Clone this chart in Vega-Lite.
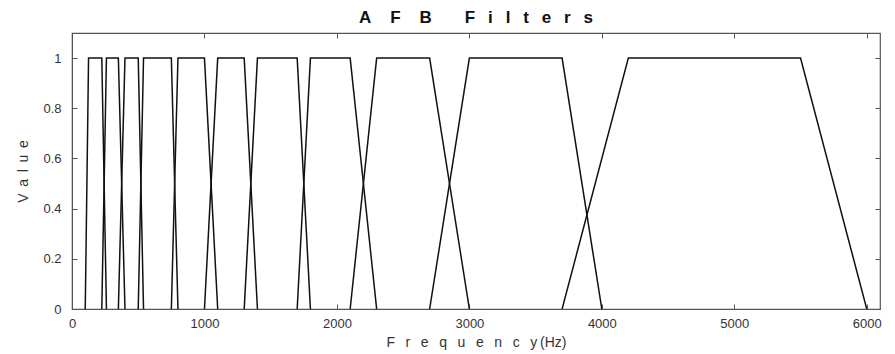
{
  "$schema": "https://vega.github.io/schema/vega-lite/v6.json",
  "width": 808,
  "height": 276,
  "autosize": {"type": "none"},
  "padding": {"left": 72, "top": 33, "right": 15, "bottom": 45},
  "background": "white",
  "title": {
    "text": "A\u00a0\u00a0\u00a0\u00a0F\u00a0\u00a0\u00a0\u00a0B\u00a0\u00a0\u00a0\u00a0\u00a0\u00a0\u00a0F\u00a0\u00a0\u2009i\u00a0\u00a0\u2009l\u00a0\u00a0\u2009t\u00a0\u00a0\u2009e\u00a0\u00a0\u2009r\u00a0\u00a0\u2009s",
    "fontSize": 17,
    "font": "Liberation Sans",
    "fontWeight": "bold",
    "color": "#111",
    "anchor": "middle",
    "offset": 6
  },
  "config": {
    "view": {"stroke": "#555", "strokeWidth": 1.2},
    "axis": {
      "labelFont": "Liberation Sans",
      "titleFont": "Liberation Sans",
      "labelFontSize": 13,
      "titleFontSize": 14,
      "labelColor": "#333",
      "titleColor": "#333",
      "titleFontWeight": "normal",
      "domainColor": "#555",
      "tickColor": "#555",
      "grid": false
    }
  },
  "data": {
    "values": [
      {"filter": 1, "f": 100, "v": 0}, {"filter": 1, "f": 125, "v": 1}, {"filter": 1, "f": 225, "v": 1}, {"filter": 1, "f": 260, "v": 0},
      {"filter": 2, "f": 225, "v": 0}, {"filter": 2, "f": 260, "v": 1}, {"filter": 2, "f": 350, "v": 1}, {"filter": 2, "f": 400, "v": 0},
      {"filter": 3, "f": 350, "v": 0}, {"filter": 3, "f": 400, "v": 1}, {"filter": 3, "f": 500, "v": 1}, {"filter": 3, "f": 540, "v": 0},
      {"filter": 4, "f": 500, "v": 0}, {"filter": 4, "f": 540, "v": 1}, {"filter": 4, "f": 750, "v": 1}, {"filter": 4, "f": 800, "v": 0},
      {"filter": 5, "f": 750, "v": 0}, {"filter": 5, "f": 800, "v": 1}, {"filter": 5, "f": 1000, "v": 1}, {"filter": 5, "f": 1100, "v": 0},
      {"filter": 6, "f": 1000, "v": 0}, {"filter": 6, "f": 1100, "v": 1}, {"filter": 6, "f": 1300, "v": 1}, {"filter": 6, "f": 1400, "v": 0},
      {"filter": 7, "f": 1300, "v": 0}, {"filter": 7, "f": 1400, "v": 1}, {"filter": 7, "f": 1700, "v": 1}, {"filter": 7, "f": 1800, "v": 0},
      {"filter": 8, "f": 1700, "v": 0}, {"filter": 8, "f": 1800, "v": 1}, {"filter": 8, "f": 2100, "v": 1}, {"filter": 8, "f": 2300, "v": 0},
      {"filter": 9, "f": 2100, "v": 0}, {"filter": 9, "f": 2300, "v": 1}, {"filter": 9, "f": 2700, "v": 1}, {"filter": 9, "f": 3000, "v": 0},
      {"filter": 10, "f": 2700, "v": 0}, {"filter": 10, "f": 3000, "v": 1}, {"filter": 10, "f": 3700, "v": 1}, {"filter": 10, "f": 4000, "v": 0},
      {"filter": 11, "f": 3700, "v": 0}, {"filter": 11, "f": 4200, "v": 1}, {"filter": 11, "f": 5500, "v": 1}, {"filter": 11, "f": 6000, "v": 0}
    ]
  },
  "layer": [
    {
      "mark": {"type": "line", "color": "#111", "strokeWidth": 1.5, "clip": true},
      "encoding": {
        "x": {
          "field": "f", "type": "quantitative",
          "scale": {"domain": [0, 6100], "nice": false, "zero": true},
          "axis": {
            "title": "F\u00a0\u00a0\u2009r\u00a0\u00a0\u2009e\u00a0\u00a0\u2009q\u00a0\u00a0\u2009u\u00a0\u00a0\u2009e\u00a0\u00a0\u2009n\u00a0\u00a0\u2009c\u00a0\u00a0\u2009y\u2009(Hz)",
            "values": [0, 1000, 2000, 3000, 4000, 5000, 6000],
            "format": "d",
            "tickSize": -5,
            "labelPadding": 13,
            "titlePadding": 5,
            "labelFlush": false
          }
        },
        "y": {
          "field": "v", "type": "quantitative",
          "scale": {"domain": [0, 1.1], "nice": false},
          "axis": {
            "title": "V\u00a0\u2009a\u00a0\u2009l\u00a0\u2009u\u00a0\u2009e",
            "values": [0, 0.2, 0.4, 0.6, 0.8, 1],
            "format": "~g",
            "tickSize": -5,
            "labelPadding": 16,
            "titlePadding": 12,
            "labelFlush": false
          }
        },
        "detail": {"field": "filter", "type": "nominal"}
      }
    },
    {
      "mark": {"type": "line", "opacity": 0},
      "encoding": {
        "x": {
          "field": "f", "type": "quantitative",
          "axis": {"orient": "top", "title": null, "labels": false, "domain": false, "values": [0, 1000, 2000, 3000, 4000, 5000, 6000], "tickSize": -5}
        },
        "y": {
          "field": "v", "type": "quantitative",
          "axis": {"orient": "right", "title": null, "labels": false, "domain": false, "values": [0, 0.2, 0.4, 0.6, 0.8, 1], "tickSize": -5}
        },
        "detail": {"field": "filter", "type": "nominal"}
      }
    }
  ],
  "resolve": {"axis": {"x": "independent", "y": "independent"}}
}
